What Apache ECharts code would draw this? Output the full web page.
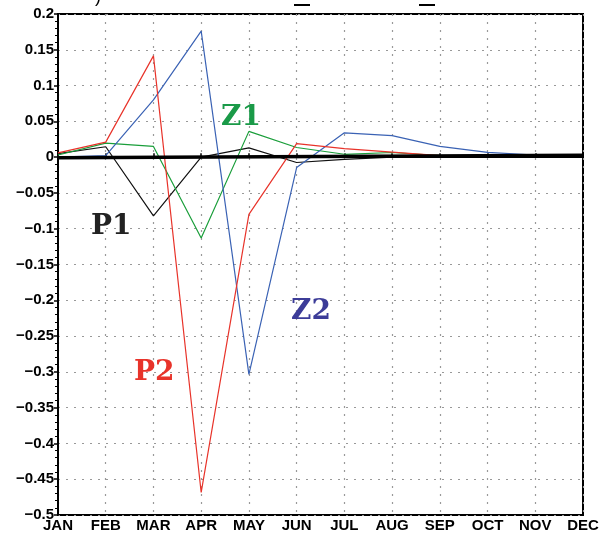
<!DOCTYPE html>
<html><head><meta charset="utf-8">
<script src="https://cdn.jsdelivr.net/npm/echarts@6/dist/echarts.min.js"></script>
<style>html,body{margin:0;padding:0;background:#fff}#c{width:607px;height:535px}</style>
</head><body><div id="c"></div>
<script>
const months = ['JAN','FEB','MAR','APR','MAY','JUN','JUL','AUG','SEP','OCT','NOV','DEC'];
const p1 = [0.005, 0.0145, -0.082, 0.0, 0.013, -0.0075, -0.003, 0.0, 0.001, 0.001, 0.002, 0.002];
const p2 = [0.006, 0.021, 0.1415, -0.4685, -0.080, 0.019, 0.012, 0.007, 0.002, 0.001, 0.002, 0.002];
const z1 = [0.003, 0.0195, 0.015, -0.113, 0.036, 0.0135, 0.004, 0.0065, 0.002, 0.001, 0.002, 0.002];
const z2 = [0.0, 0.002, 0.080, 0.176, -0.3036, -0.0145, 0.034, 0.030, 0.015, 0.0066, 0.003, 0.002];
const zeroLine = [-0.001, null, null, null, null, null, null, null, null, null, null, 0.0025];
const yTicks = {min: -0.5, max: 0.2, interval: 0.05};

const chart = echarts.init(document.getElementById('c'), null, {renderer: 'canvas'});
const lbl = {fontFamily: 'Liberation Sans Narrow, Liberation Sans, sans-serif', fontSize: 15, fontWeight: 'bold', color: '#000'};
const grid = {show: true, left: 58, right: 24, top: 14, bottom: 20, borderColor: '#000', borderWidth: 2};
const slab = 'DejaVu Serif, serif';
function txt(t, x, y, color){
  return {type: 'text', left: x, top: y, z: 100, style: {text: t, fill: color, font: 'bold 28px ' + slab}};
}
function ser(name, data, color, w){
  return {name, type: 'line', data, symbol: 'none', connectNulls: true, animation: false,
    lineStyle: {color, width: w}, z: w > 2 ? 5 : 3};
}
chart.setOption({
  animation: false,
  grid,
  xAxis: {type: 'category', data: months, boundaryGap: false,
    axisLine: {lineStyle: {color: '#000', width: 2}},
    axisTick: {show: true, alignWithLabel: true, length: 4, inside: true, lineStyle: {color: '#000', width: 1.5}},
    axisLabel: Object.assign({margin: 3, fontSize: 13, interval: 0}, lbl),
    splitLine: {show: true, lineStyle: {color: '#999', type: [2, 6], width: 1.2}}},
  yAxis: {type: 'value', min: yTicks.min, max: yTicks.max, interval: yTicks.interval,
    axisLine: {show: true, lineStyle: {color: '#000', width: 2}},
    axisTick: {show: true, length: 4, lineStyle: {color: '#000', width: 1.5}},
    minorTick: {show: true, splitNumber: 5, length: 3, lineStyle: {color: '#000'}},
    axisLabel: Object.assign({margin: 4, formatter: v => {
      let s = String(Math.round(v * 100) / 100);
      return s.replace('-', '\u2212');
    }}, lbl),
    splitLine: {show: true, lineStyle: {color: '#999', type: [2, 6], width: 1.2}}},
  series: [
    ser('zero', zeroLine, '#000', 3.5),
    ser('P1', p1, '#111', 1.2),
    ser('Z1', z1, '#1a9e3a', 1.2),
    ser('Z2', z2, '#3a62b4', 1.2),
    ser('P2', p2, '#e8332a', 1.2)
  ],
  graphic: [
    txt('P1', 91, 213, '#222'),
    txt('Z1', 221, 104, '#1a9a48'),
    txt('P2', 134, 359, '#e8332a'),
    txt('Z2', 291, 298, '#3c3c98'),
    {type: 'text', left: 95, top: -12, style: {text: ')', fill: '#000', font: '18px Liberation Sans'}},
    {type: 'rect', shape: {x: 294, y: 4, width: 16, height: 2}, style: {fill: '#000'}},
    {type: 'rect', shape: {x: 419, y: 4, width: 16, height: 2}, style: {fill: '#000'}}
  ]
});
</script></body></html>
